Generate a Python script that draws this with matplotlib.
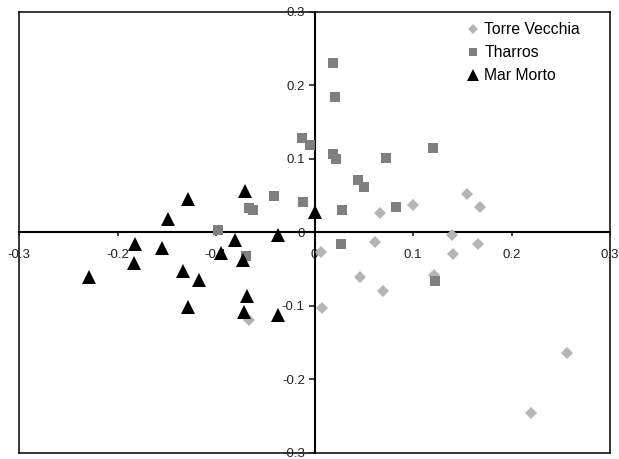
import matplotlib
matplotlib.use("Agg")
import matplotlib.pyplot as plt

plt.rcParams["font.family"] = ["Liberation Sans", "DejaVu Sans"]

# Torre Vecchia (light grey diamonds)
tv_x = [0.007, 0.061, 0.140, 0.141, 0.166, 0.046, 0.070, 0.121, 0.008,
        0.256, 0.220, 0.066, 0.100, 0.155, 0.168, -0.067]
tv_y = [-0.026, -0.013, -0.004, -0.029, -0.016, -0.060, -0.080, -0.058, -0.103,
        -0.164, -0.245, 0.026, 0.038, 0.052, 0.035, -0.119]

# Tharros (grey squares)
th_x = [0.019, 0.021, -0.013, -0.005, 0.019, 0.022, 0.073, 0.120, 0.044, 0.050,
        -0.012, 0.028, 0.083, -0.041, -0.067, -0.062, -0.098, -0.070, 0.027, 0.122]
th_y = [0.231, 0.184, 0.128, 0.119, 0.107, 0.100, 0.102, 0.115, 0.071, 0.062,
        0.042, 0.031, 0.035, 0.049, 0.033, 0.031, 0.004, -0.032, -0.015, -0.066]

# Mar Morto (black triangles)
mm_x = [-0.128, -0.149, -0.071, 0.001, -0.182, -0.155, -0.081, -0.037, -0.183,
        -0.229, -0.134, -0.117, -0.095, -0.073, -0.069, -0.128, -0.072, -0.037]
mm_y = [0.045, 0.018, 0.056, 0.028, -0.015, -0.021, -0.010, -0.003, -0.042,
        -0.061, -0.053, -0.065, -0.028, -0.038, -0.086, -0.101, -0.108, -0.112]

ticks = [-0.3, -0.2, -0.1, 0, 0.1, 0.2, 0.3]
tick_labels = ["-0.3", "-0.2", "-0.1", "0", "0.1", "0.2", "0.3"]

fig = plt.figure(figsize=(6.19, 4.59), dpi=100)
pos = [0.0307, 0.0131, 0.9548, 0.9608]

# outer frame
frame = fig.add_axes(pos, zorder=0)
frame.set_xticks([])
frame.set_yticks([])
for s in frame.spines.values():
    s.set_linewidth(1.1)

ax = fig.add_axes(pos, zorder=1)
ax.patch.set_alpha(0)
ax.plot(tv_x, tv_y, "D", color="#b5b5b5", markersize=6.3, markeredgewidth=0,
        label="Torre Vecchia", zorder=3)
ax.plot(th_x, th_y, "s", color="#7f7f7f", markersize=7, markeredgewidth=0,
        label="Tharros", zorder=3)
ax.plot(mm_x, mm_y, "^", color="black", markersize=10, markeredgewidth=0,
        label="Mar Morto", zorder=4)

ax.set_xlim(-0.3, 0.3)
ax.set_ylim(-0.3, 0.3)
ax.spines["left"].set_position("zero")
ax.spines["bottom"].set_position("zero")
ax.spines["top"].set_visible(False)
ax.spines["right"].set_visible(False)
ax.spines["left"].set_linewidth(1.5)
ax.spines["bottom"].set_linewidth(1.5)

ax.set_xticks(ticks)
ax.set_xticklabels(tick_labels)
ax.set_yticks(ticks)
ax.set_yticklabels(tick_labels)
ax.tick_params(axis="x", direction="out", length=3, width=1.2, pad=9,
               labelsize=9.5, colors="#222222")
ax.tick_params(axis="y", direction="out", length=4, width=1.2, pad=3,
               labelsize=9.5, colors="#222222")

ax.legend(loc="upper left", bbox_to_anchor=(0.758, 0.977), frameon=False,
          borderpad=0, borderaxespad=0, handlelength=0.8, handletextpad=0.3,
          labelspacing=0.52, numpoints=1, markerscale=0.8, fontsize=11.3)

fig.savefig("out.png", dpi=100)
